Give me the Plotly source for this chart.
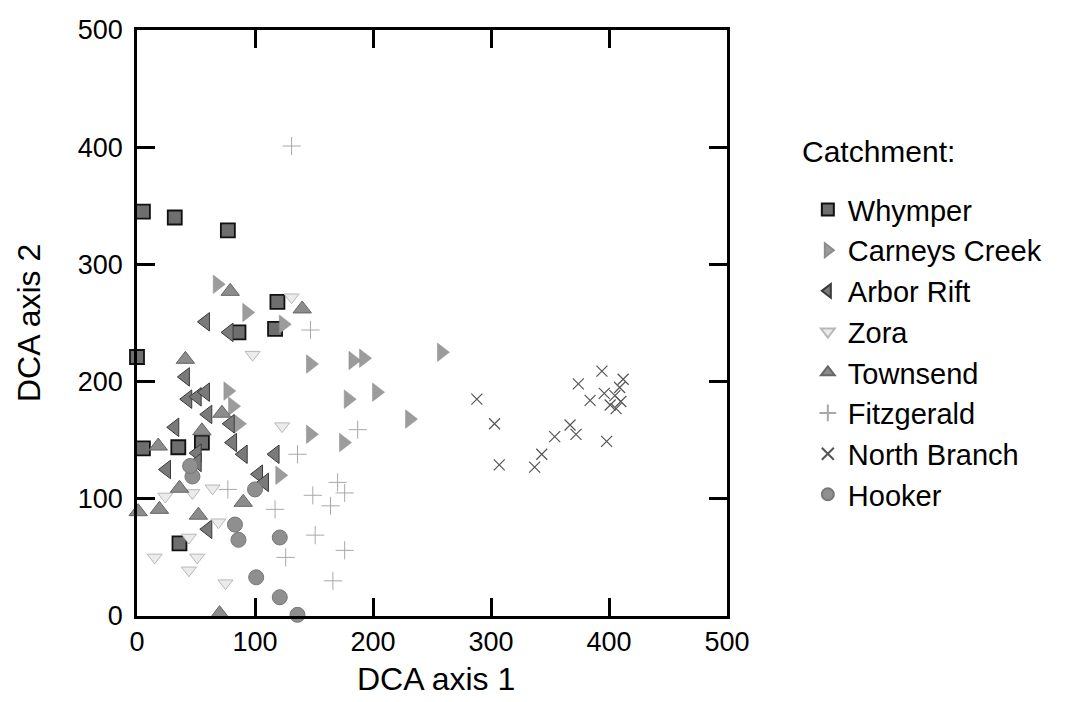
import plotly.graph_objects as go

# ---- data (DCA axis 1, DCA axis 2) ----
whymper_x = [5, 32, 77, 119, 86, 117, 0, 5, 35, 55, 36]
whymper_y = [345, 340, 329, 268, 242, 245, 221, 143, 144, 148, 62]

carneys_x = [68, 93, 124, 147, 77, 81, 86, 147, 121, 183, 192, 258, 203, 179, 231, 175]
carneys_y = [283, 259, 249, 215, 192, 179, 164, 155, 120, 218, 220, 225, 191, 185, 168, 148]

arbor_x = [58, 78, 41, 43, 51, 58, 60, 79, 32, 81, 90, 117, 25, 51, 51, 103, 108, 60]
arbor_y = [251, 242, 204, 185, 187, 191, 172, 164, 161, 148, 138, 138, 125, 139, 131, 121, 114, 74]

zora_x = [131, 98, 123, 24, 47, 64, 69, 44, 15, 51, 44, 75]
zora_y = [272, 223, 162, 102, 105, 109, 80, 67, 50, 50, 39, 28]

townsend_x = [79, 140, 41, 72, 55, 18, 36, 90, 1, 19, 52, 70]
townsend_y = [277, 262, 219, 173, 158, 145, 109, 97, 89, 91, 86, 2]

fitz_x = [131, 147, 136, 149, 170, 176, 164, 187, 117, 77, 151, 176, 166, 126]
fitz_y = [401, 244, 138, 103, 114, 105, 94, 159, 91, 108, 69, 56, 30, 50]

north_x = [288, 303, 307, 337, 343, 354, 367, 372, 374, 384, 394, 396, 398, 401, 405, 406, 409, 410, 412]
north_y = [185, 164, 129, 127, 138, 153, 163, 155, 198, 184, 209, 190, 149, 180, 188, 177, 195, 183, 202]

hooker_x = [47, 45, 100, 83, 86, 121, 101, 121, 136]
hooker_y = [119, 128, 108, 78, 65, 67, 33, 16, 1]

legend_title = "Catchment:"
x_title = "DCA axis 1"
y_title = "DCA axis 2"
FONT = "Liberation Sans, Arial, Helvetica, sans-serif"

series = [
    ("Whymper", whymper_x, whymper_y, dict(symbol="square", size=14, color="#6e6e6e", line=dict(color="#111111", width=1.8))),
    ("Carneys Creek", carneys_x, carneys_y, dict(symbol="triangle-right", size=16, color="#9c9c9c", line=dict(color="#8c8c8c", width=0.5))),
    ("Arbor Rift", arbor_x, arbor_y, dict(symbol="triangle-left", size=16, color="#7a7a7a", line=dict(color="#3a3a3a", width=1))),
    ("Zora", zora_x, zora_y, dict(symbol="triangle-down", size=13, color="#ebebeb", line=dict(color="#b8b8b8", width=1))),
    ("Townsend", townsend_x, townsend_y, dict(symbol="triangle-up", size=16, color="#8c8c8c", line=dict(color="#666666", width=1))),
    ("Fitzgerald", fitz_x, fitz_y, dict(symbol="cross-thin", size=13, color="#b0b0b0", line=dict(color="#a8a8a8", width=1))),
    ("North Branch", north_x, north_y, dict(symbol="x-thin", size=11, color="#555555", line=dict(color="#555555", width=1.2))),
    ("Hooker", hooker_x, hooker_y, dict(symbol="circle", size=15, color="#8f8f8f", line=dict(color="#777777", width=1))),
]

fig = go.Figure()
for name, xs, ys, mk in series:
    fig.add_trace(go.Scatter(x=xs, y=ys, mode="markers", name=name, marker=mk, cliponaxis=False))

axis_common = dict(
    range=[0, 500], dtick=100, ticks="inside", ticklen=18, tickwidth=2.5,
    tickcolor="black", showline=True, linecolor="black", linewidth=2.5,
    mirror="ticks", showgrid=False, zeroline=False,
    tickfont=dict(family=FONT, size=27, color="black"),
)
fig.update_xaxes(**axis_common)
fig.update_yaxes(**axis_common, ticklabelstandoff=6)

fig.add_annotation(text=x_title, xref="paper", yref="paper", x=0.507, y=-0.107,
                   xanchor="center", yanchor="middle", showarrow=False,
                   font=dict(family=FONT, size=32, color="black"))
fig.add_annotation(text=y_title, xref="paper", yref="paper", x=-0.183, y=0.5,
                   xanchor="center", yanchor="middle", showarrow=False, textangle=-90,
                   font=dict(family=FONT, size=32, color="black"))
fig.add_annotation(text=legend_title, xref="paper", yref="paper",
                   x=1.124, y=0.792, xanchor="left", yanchor="middle", showarrow=False,
                   font=dict(family=FONT, size=30, color="black"))

fig.update_layout(
    width=1091, height=702,
    margin=dict(l=137, r=364, t=30, b=86),
    plot_bgcolor="white", paper_bgcolor="white",
    showlegend=True,
    legend=dict(
        font=dict(family=FONT, size=29, color="black"),
        x=1.137, y=0.737, xanchor="left", yanchor="top",
        itemsizing="constant", tracegroupgap=0,
        bgcolor="rgba(0,0,0,0)",
    ),
)

fig.write_html("out.html")
